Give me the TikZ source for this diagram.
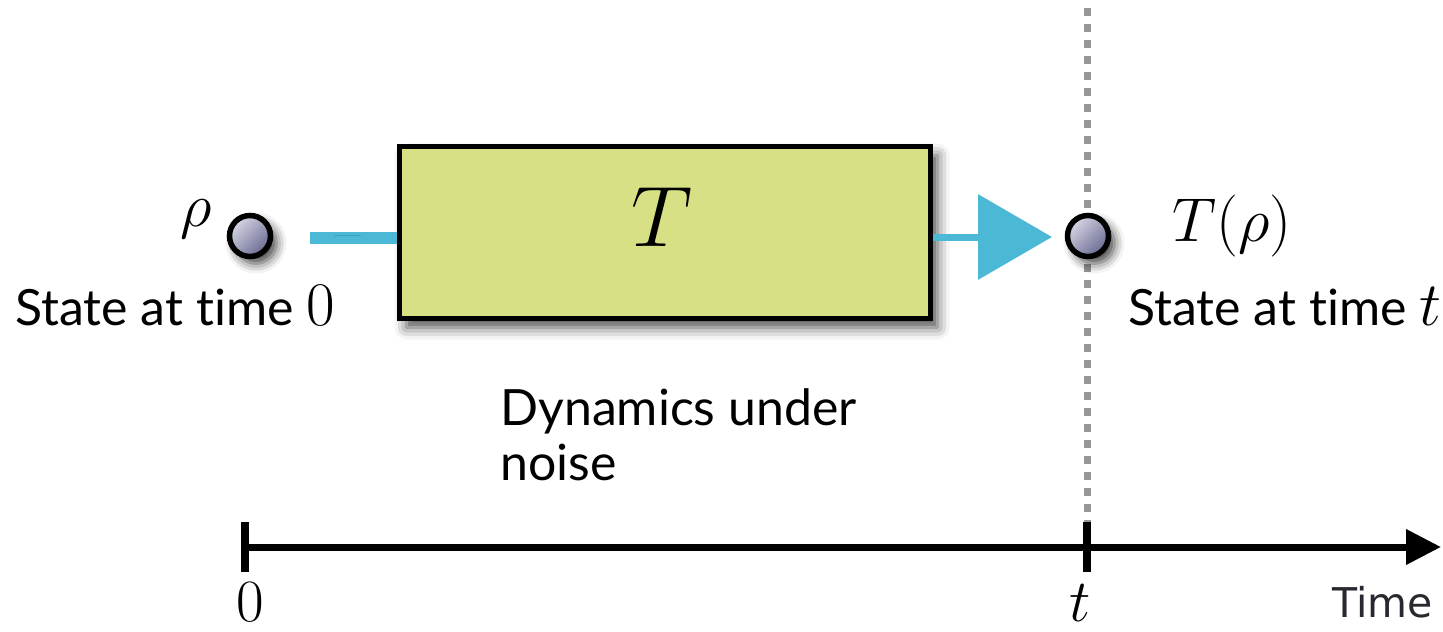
\RequirePackage{fix-cm}
\documentclass[tikz,border=0pt]{standalone}
\usepackage{fontspec}
\newfontfamily\labelfont[Ligatures=NoCommon]{Lato}
\newfontfamily\timefont{DejaVu Sans}
\usetikzlibrary{arrows.meta,shadows.blur}
\definecolor{boxfill}{RGB}{216,224,134}
\definecolor{flow}{RGB}{75,184,213}
\definecolor{flowdark}{RGB}{55,150,180}
\definecolor{dotgray}{RGB}{150,150,150}
\definecolor{balllight}{RGB}{215,215,230}
\definecolor{balldark}{RGB}{105,105,145}
\definecolor{timegray}{RGB}{40,40,48}
\begin{document}
\begin{tikzpicture}[x=0.5pt,y=-0.5pt,
  state/.style={circle, draw=black, line width=2.75pt, minimum size=20.5pt, inner sep=0pt,
    top color=balllight, bottom color=balldark, shading angle=45,
    blur shadow={shadow xshift=3pt, shadow yshift=-3.5pt, shadow blur radius=5pt, shadow opacity=75}},
  procbox/.style={rectangle, draw=black, line width=2.5pt, fill=boxfill,
    minimum width=265.5pt, minimum height=86pt, inner sep=0pt,
    blur shadow={shadow xshift=3.5pt, shadow yshift=-4.5pt, shadow blur radius=6pt, shadow opacity=70}},
  flowline/.style={draw=flow, line width=6pt},
  grain/.style={draw=flowdark, line width=0.7pt, opacity=0.6},
  mathlabel/.style={inner sep=0pt, font=\fontsize{31}{31}\selectfont},
  textlabel/.style={inner sep=0pt, font=\labelfont\fontsize{25}{27.5}\selectfont},
  axisline/.style={line width=3.5pt, -{Triangle[length=17.5pt,width=17pt]}},
  tickline/.style={line width=4pt},
  dotline/.style={draw=dotgray, line width=3.5pt, dash pattern=on 4pt off 4pt}
]
\useasboundingbox (0,0) rectangle (1443,631);

% time axis and dotted marker
\coordinate (dtop) at (1087,8);
\coordinate (tick0a) at (245,522);
\coordinate (tick0b) at (245,572);
\coordinate (tickta) at (1087,522);
\coordinate (ticktb) at (1087,572);
\coordinate (axstart) at (245,547);
\coordinate (axend) at (1441,547);
\draw[dotline] (dtop) -- (tickta);
\draw[axisline] (axstart) -- (axend);
\draw[tickline] (tick0a) -- (tick0b);
\draw[tickline] (tickta) -- (ticktb);

% process box
\node[procbox] (box) at (665,232.5) {};
\node[mathlabel, font=\fontsize{43}{43}\selectfont] (Tlab) at (662,217) {$T$};

% flow strokes
\coordinate (inflow) at (310,238);
\coordinate (outtip) at (1052,237);
\draw[flowline] (inflow) -- (box.west |- inflow);
\draw[grain] ([xshift=12pt,yshift=1.2pt]inflow) -- ([xshift=-18pt,yshift=1.2pt]box.west |- inflow);
\draw[draw=flowdark, line width=3.5pt, -{Triangle[length=37pt,width=42pt,fill=flow]}, flow] (box.east |- outtip) -- (outtip);

% states
\node[state] (s0) at (250,236) {};
\node[state] (s1) at (1088,236) {};
\node[mathlabel, anchor=base] (rho) at (196,226) {$\rho$};
\node[mathlabel, anchor=base west] (Trho) at (1172,241) {$T(\rho)$};

% text labels
\node[textlabel, anchor=base west] (st0) at (15,325) {State at time \fontsize{31}{31}\selectfont$0$};
\node[textlabel, anchor=base west] (stt) at (1128,325) {State at time \fontsize{31}{31}\selectfont$t$};
\node[textlabel, anchor=base west, align=left] (dyn) at (500,480) {Dynamics under\\noise};

% axis labels
\node[mathlabel, anchor=base, font=\fontsize{30}{30}\selectfont] (zero) at (250,621) {$0$};
\node[mathlabel, anchor=base, font=\fontsize{30}{30}\selectfont] (tlab) at (1080,621) {$t$};
\node[inner sep=0pt, anchor=base east, text=timegray, font=\timefont\fontsize{20.5}{20.5}\selectfont] (time) at (1433,617) {Time};
\end{tikzpicture}
\end{document}
